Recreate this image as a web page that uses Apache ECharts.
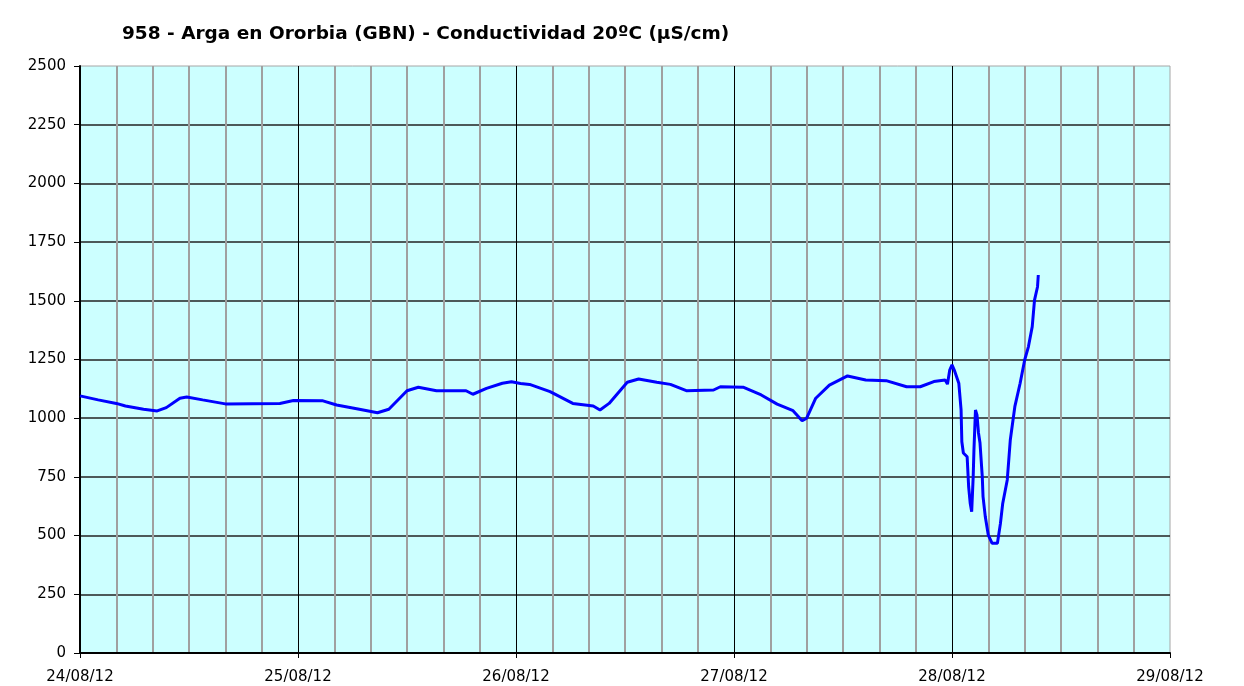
<!DOCTYPE html>
<html>
<head>
<meta charset="utf-8">
<script src="https://cdn.jsdelivr.net/npm/echarts@6/dist/echarts.min.js"></script>
<style>
  html, body { margin: 0; padding: 0; background: #fff; }
  #chart { width: 1244px; height: 686px; }
</style>
</head>
<body>
<div id="chart"></div>
<script>
// Conductivity readings
const times = [
  '2012-08-24 00:00', '2012-08-24 02:00', '2012-08-24 04:00', '2012-08-24 05:00',
  '2012-08-24 07:00', '2012-08-24 08:30', '2012-08-24 09:30', '2012-08-24 11:00',
  '2012-08-24 11:45', '2012-08-24 13:30', '2012-08-24 16:00', '2012-08-24 22:00',
  '2012-08-24 23:30', '2012-08-25 02:45', '2012-08-25 04:15', '2012-08-25 06:45',
  '2012-08-25 08:45', '2012-08-25 10:00', '2012-08-25 12:00', '2012-08-25 13:15',
  '2012-08-25 15:15', '2012-08-25 18:30', '2012-08-25 19:15', '2012-08-25 20:45',
  '2012-08-25 22:30', '2012-08-25 23:30', '2012-08-26 00:30', '2012-08-26 01:30',
  '2012-08-26 03:45', '2012-08-26 06:15', '2012-08-26 08:30', '2012-08-26 09:15',
  '2012-08-26 10:15', '2012-08-26 12:15', '2012-08-26 13:30', '2012-08-26 15:30',
  '2012-08-26 17:00', '2012-08-26 18:45', '2012-08-26 21:45', '2012-08-26 22:30',
  '2012-08-27 01:00', '2012-08-27 03:00', '2012-08-27 04:45', '2012-08-27 06:30',
  '2012-08-27 07:30', '2012-08-27 08:00', '2012-08-27 09:00', '2012-08-27 10:30',
  '2012-08-27 12:30', '2012-08-27 14:30', '2012-08-27 16:45', '2012-08-27 19:00',
  '2012-08-27 20:30', '2012-08-27 22:00', '2012-08-27 23:15', '2012-08-27 23:30',
  '2012-08-27 23:45', '2012-08-28 00:00', '2012-08-28 00:15', '2012-08-28 00:45',
  '2012-08-28 01:00', '2012-08-28 01:05', '2012-08-28 01:15', '2012-08-28 01:40',
  '2012-08-28 01:50', '2012-08-28 02:00', '2012-08-28 02:10', '2012-08-28 02:20',
  '2012-08-28 02:25', '2012-08-28 02:35', '2012-08-28 02:45', '2012-08-28 02:55',
  '2012-08-28 03:05', '2012-08-28 03:20', '2012-08-28 03:25', '2012-08-28 03:40',
  '2012-08-28 04:00', '2012-08-28 04:25', '2012-08-28 05:00', '2012-08-28 05:20',
  '2012-08-28 05:35', '2012-08-28 06:05', '2012-08-28 06:25', '2012-08-28 06:55',
  '2012-08-28 07:30', '2012-08-28 08:00', '2012-08-28 08:25', '2012-08-28 08:50',
  '2012-08-28 09:05', '2012-08-28 09:25', '2012-08-28 09:30'
];
const values = [
  1095, 1078, 1063, 1052,
  1038, 1031, 1045, 1085,
  1090, 1078, 1061, 1063,
  1075, 1074, 1056, 1038,
  1023, 1038, 1117, 1132,
  1117, 1117, 1102, 1127,
  1149, 1155, 1148, 1144,
  1113, 1063, 1052, 1035,
  1063, 1153, 1167, 1153,
  1144, 1117, 1120, 1134,
  1132, 1099, 1060, 1032,
  989, 1000, 1085, 1141,
  1180, 1163, 1160, 1134,
  1134, 1156, 1163, 1145,
  1205, 1227, 1205, 1149,
  1035, 900, 852, 836,
  708, 639, 602, 751,
  865, 1035, 1014, 937,
  894, 751, 666, 580,
  502, 467, 467, 552,
  637, 737, 907, 1049,
  1149, 1248, 1305, 1390,
  1503, 1560, 1610
];
const dayLabels = ['24/08/12', '25/08/12', '26/08/12', '27/08/12', '28/08/12', '29/08/12'];

const title = '958 - Arga en Ororbia (GBN) - Conductividad 20ºC (µS/cm)';
const font = 'Tahoma, "DejaVu Sans", Verdana, sans-serif';

// hours since 24/08/12 00:00 (parsed as UTC so the sandbox timezone does not matter)
const base = Date.UTC(2012, 7, 24);
const toHours = (s) => {
  const [d, t] = s.split(' ');
  const [y, mo, da] = d.split('-').map(Number);
  const [h, mi] = t.split(':').map(Number);
  return (Date.UTC(y, mo - 1, da, h, mi) - base) / 3600000;
};
const seriesData = times.map((t, i) => [toHours(t), values[i]]);

const chart = echarts.init(document.getElementById('chart'));
chart.setOption({
  backgroundColor: '#ffffff',
  animation: false,
  title: {
    text: title,
    left: 117,
    top: 20,
    textStyle: { fontFamily: font, fontSize: 18.5, fontWeight: 'bold', color: '#000' }
  },
  grid: {
    left: 80,
    right: 74,
    top: 66,
    bottom: 33,
    show: true,
    backgroundColor: '#ccffff',
    borderColor: '#a6a6a6',
    borderWidth: 1
  },
  xAxis: {
    type: 'value',
    min: 0,
    max: 120,
    interval: 24,
    axisLine: { show: true, lineStyle: { color: '#000', width: 2 } },
    axisTick: { show: true, length: 5, lineStyle: { color: '#000' } },
    axisLabel: {
      fontFamily: font,
      fontSize: 15,
      color: '#000',
      margin: 17,
      formatter: (v) => dayLabels[Math.round(v / 24)] || ''
    },
    splitLine: {
      show: true,
      showMinLine: false,
      showMaxLine: false,
      lineStyle: { color: '#000', width: 1 }
    },
    minorTick: { show: false, splitNumber: 6 },
    minorSplitLine: { show: true, lineStyle: { color: '#a0a0a0', width: 2 } }
  },
  yAxis: {
    type: 'value',
    min: 0,
    max: 2500,
    interval: 250,
    axisLine: { show: true, lineStyle: { color: '#000', width: 2 } },
    axisTick: { show: true, length: 6, lineStyle: { color: '#000' } },
    axisLabel: {
      fontFamily: font,
      fontSize: 15,
      color: '#000',
      margin: 14,
      formatter: (v) => String(v)
    },
    splitLine: {
      show: true,
      showMinLine: false,
      showMaxLine: false,
      lineStyle: { color: '#222', width: 1.5 }
    }
  },
  series: [{
    type: 'line',
    data: seriesData,
    showSymbol: false,
    symbol: 'none',
    lineStyle: { color: '#0000ff', width: 3 },
    z: 5
  }]
});
</script>
</body>
</html>
